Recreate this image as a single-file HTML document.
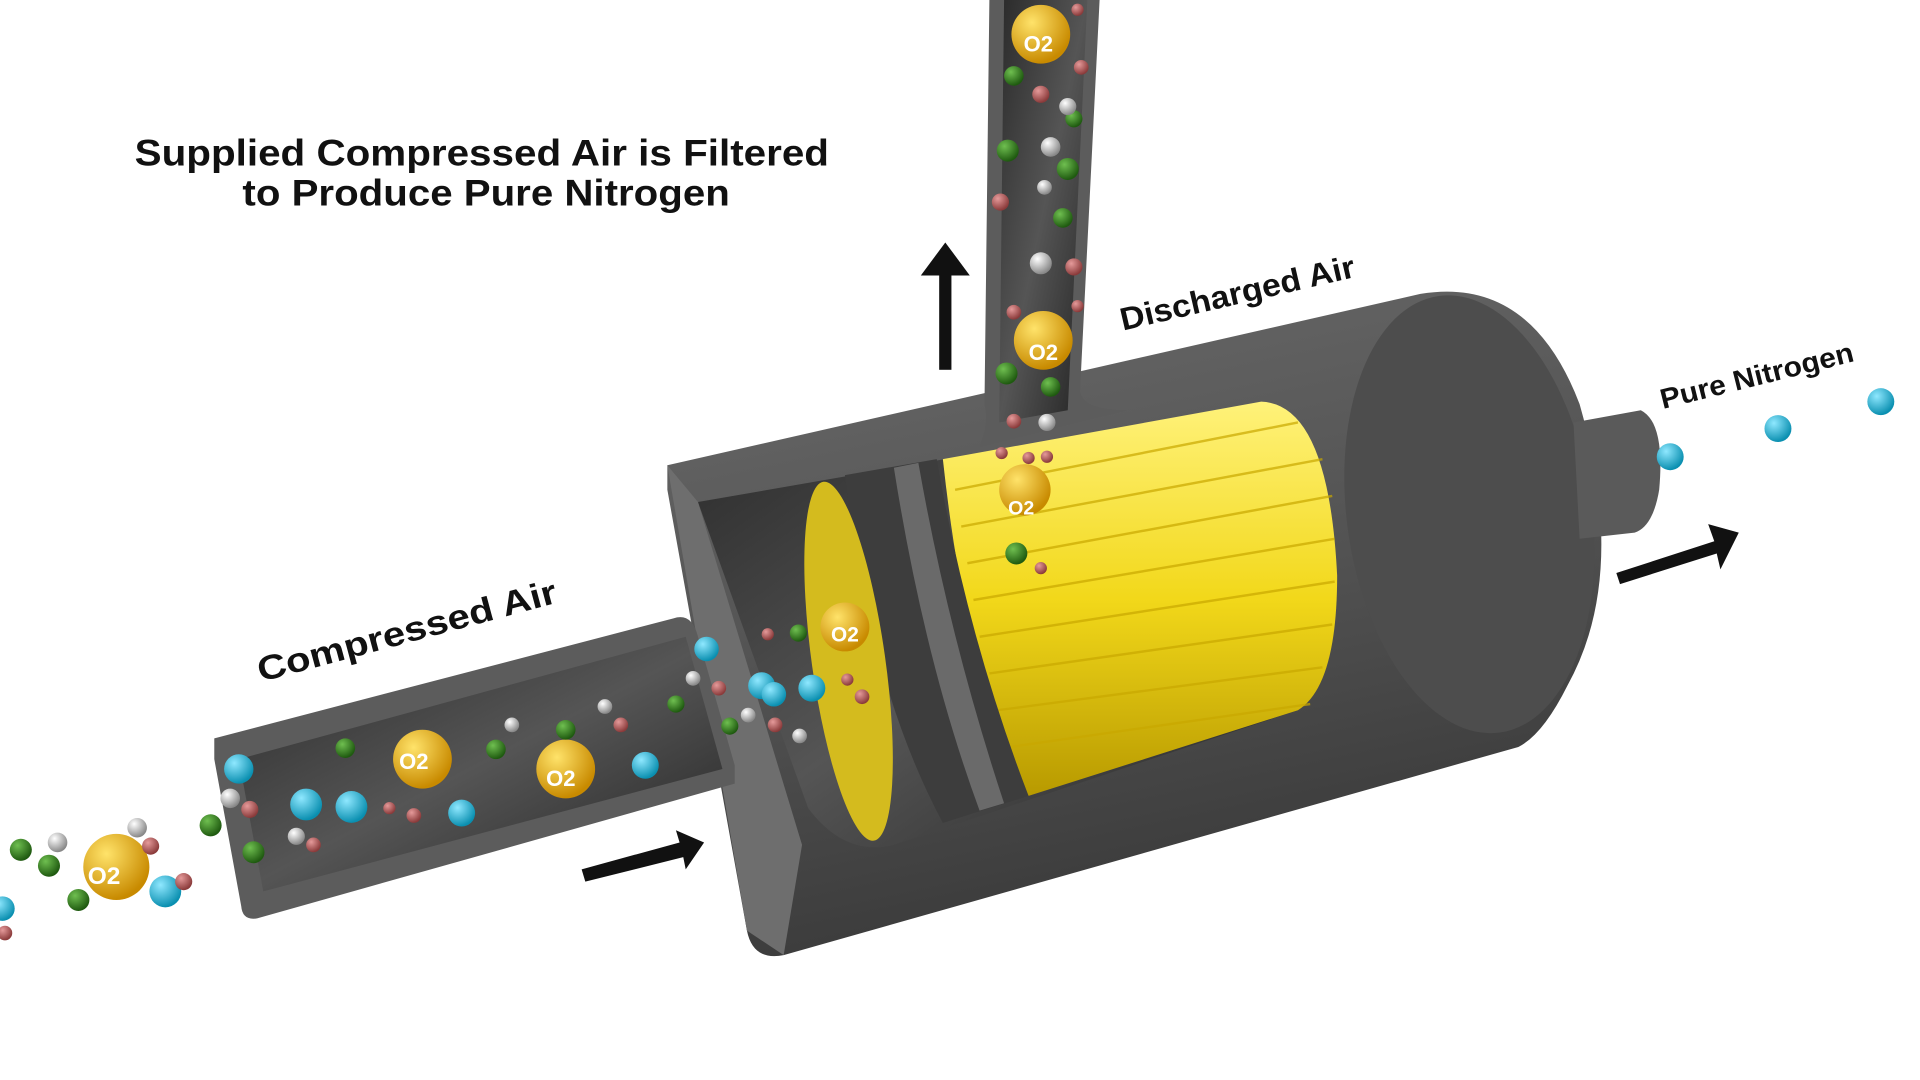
<!DOCTYPE html>
<html><head><meta charset="utf-8"><style>
html,body{margin:0;padding:0;background:#fff;}
svg{display:block;}
text{font-family:"Liberation Sans",sans-serif;font-weight:bold;}
</style></head><body>
<svg width="1920" height="1080" viewBox="0 0 1568 882" preserveAspectRatio="none" xmlns="http://www.w3.org/2000/svg">
<defs>
<linearGradient id="body" x1="0" y1="0" x2="0.3" y2="1">
<stop offset="0" stop-color="#6a6a6a"/><stop offset="0.5" stop-color="#555"/><stop offset="1" stop-color="#3a3a3a"/></linearGradient>
<linearGradient id="inner" x1="0" y1="0" x2="1" y2="1">
<stop offset="0" stop-color="#2a2a2a"/><stop offset="0.5" stop-color="#555"/><stop offset="1" stop-color="#222"/></linearGradient>
<linearGradient id="yel" x1="0" y1="0" x2="0" y2="1">
<stop offset="0" stop-color="#fff27a"/><stop offset="0.5" stop-color="#f2d81a"/><stop offset="1" stop-color="#b89a00"/></linearGradient>
<radialGradient id="o2" cx="0.35" cy="0.3" r="0.7"><stop offset="0" stop-color="#ffe36a"/><stop offset="1" stop-color="#c88a00"/></radialGradient>
<radialGradient id="n2" cx="0.35" cy="0.3" r="0.7"><stop offset="0" stop-color="#8fe8ff"/><stop offset="1" stop-color="#0a8fb0"/></radialGradient>
<radialGradient id="gr" cx="0.35" cy="0.3" r="0.7"><stop offset="0" stop-color="#6fbf50"/><stop offset="1" stop-color="#1f5a10"/></radialGradient>
<radialGradient id="rd" cx="0.35" cy="0.3" r="0.7"><stop offset="0" stop-color="#e59a9a"/><stop offset="1" stop-color="#8a3a3a"/></radialGradient>
<radialGradient id="wh" cx="0.35" cy="0.3" r="0.7"><stop offset="0" stop-color="#fff"/><stop offset="1" stop-color="#888"/></radialGradient>
</defs>

<text x="110" y="135" font-size="30" textLength="567" lengthAdjust="spacingAndGlyphs" fill="#111">Supplied Compressed Air is Filtered</text>
<text x="198" y="168" font-size="30" textLength="398" lengthAdjust="spacingAndGlyphs" fill="#111">to Produce Pure Nitrogen</text>

<!-- big cylinder body -->
<path d="M545 380 L1160 240 Q1250 225 1290 330 Q1330 470 1280 560 Q1260 600 1240 610 L640 780 Q615 785 610 760 L545 400 Z" fill="url(#body)"/>
<ellipse cx="1200" cy="420" rx="100" ry="180" transform="rotate(-8 1200 420)" fill="#4d4d4d"/>
<!-- outlet -->
<path d="M1285 345 L1340 335 Q1360 345 1355 400 Q1350 430 1335 435 L1290 440 Z" fill="#5a5a5a"/>
<!-- cutaway inside -->
<path d="M570 410 L1030 330 Q1080 330 1090 460 Q1090 560 1060 580 L730 690 Q690 700 660 660 Z" fill="url(#inner)"/>
<path d="M545 380 L570 410 L655 690 L640 780 L610 760 Z" fill="#6e6e6e"/>
<!-- yellow filter -->
<path d="M770 375 L1030 328 Q1085 330 1092 470 Q1092 560 1060 580 L840 650 Q790 560 770 375 Z" fill="url(#yel)"/>
<g stroke="#c9a800" stroke-width="2" opacity="0.7">
<line x1="780" y1="400" x2="1060" y2="345"/><line x1="785" y1="430" x2="1080" y2="375"/>
<line x1="790" y1="460" x2="1088" y2="405"/><line x1="795" y1="490" x2="1090" y2="440"/>
<line x1="800" y1="520" x2="1090" y2="475"/><line x1="808" y1="550" x2="1088" y2="510"/>
<line x1="815" y1="580" x2="1080" y2="545"/><line x1="825" y1="610" x2="1070" y2="575"/>
</g>
<!-- gaskets -->
<path d="M690 388 L765 375 Q790 520 840 650 L770 672 Q710 560 690 388 Z" fill="#3d3d3d"/>
<path d="M730 382 L750 378 Q775 520 820 656 L800 662 Q755 540 730 382 Z" fill="#6a6a6a"/>
<ellipse cx="693" cy="540" rx="30" ry="148" transform="rotate(-8 693 540)" fill="#d4bb1e"/>
<!-- small pipe -->
<path d="M175 603 L550 505 Q565 500 570 520 L600 625 L600 640 L210 750 Q198 752 197 740 L175 620 Z" fill="#5c5c5c"/>
<path d="M195 620 L560 520 L590 628 L215 728 Z" fill="url(#inner)"/>
<!-- vertical pipe -->
<path d="M808 0 L898 0 L882 320 Q885 335 920 335 L800 365 Q808 345 804 330 Z" fill="#5c5c5c"/>
<path d="M820 0 L888 0 L872 335 L816 345 Z" fill="url(#inner)"/>

<!-- arrows -->
<g fill="#111">
<rect x="767" y="222" width="10" height="80"/><polygon points="752,225 772,198 792,225"/>
<polygon points="475,710 555,688 552,678 575,688 560,710 558,700 478,720"/>
<polygon points="1320,468 1400,442 1395,428 1420,435 1405,465 1402,452 1323,477"/>
</g>

<text transform="translate(213,557) rotate(-15)" font-size="28" textLength="252" lengthAdjust="spacingAndGlyphs" fill="#111">Compressed Air</text>
<text transform="translate(917,270) rotate(-13)" font-size="26" textLength="196" lengthAdjust="spacingAndGlyphs" fill="#111">Discharged Air</text>
<text transform="translate(1358,334) rotate(-14)" font-size="23" textLength="162" lengthAdjust="spacingAndGlyphs" fill="#111">Pure Nitrogen</text>

<!-- molecules -->
<g font-size="16" fill="#fff" text-anchor="middle" font-weight="bold">
<circle cx="95" cy="708" r="27" fill="url(#o2)"/><text x="85" y="722" font-size="20">O2</text>
<circle cx="345" cy="620" r="24" fill="url(#o2)"/><text x="338" y="628" font-size="18">O2</text>
<circle cx="462" cy="628" r="24" fill="url(#o2)"/><text x="458" y="642" font-size="18">O2</text>
<circle cx="690" cy="512" r="20" fill="url(#o2)"/><text x="690" y="524" font-size="17">O2</text>
<circle cx="837" cy="400" r="21" fill="url(#o2)"/><text x="834" y="420" font-size="16">O2</text>
<circle cx="852" cy="278" r="24" fill="url(#o2)"/><text x="852" y="294" font-size="18">O2</text>
<circle cx="850" cy="28" r="24" fill="url(#o2)"/><text x="848" y="42" font-size="18">O2</text>
</g>
<g>
<circle cx="135" cy="728" r="13" fill="url(#n2)"/><circle cx="250" cy="657" r="13" fill="url(#n2)"/>
<circle cx="287" cy="659" r="13" fill="url(#n2)"/><circle cx="377" cy="664" r="11" fill="url(#n2)"/>
<circle cx="527" cy="625" r="11" fill="url(#n2)"/><circle cx="195" cy="628" r="12" fill="url(#n2)"/>
<circle cx="577" cy="530" r="10" fill="url(#n2)"/><circle cx="622" cy="560" r="11" fill="url(#n2)"/>
<circle cx="632" cy="567" r="10" fill="url(#n2)"/><circle cx="663" cy="562" r="11" fill="url(#n2)"/>
<circle cx="1364" cy="373" r="11" fill="url(#n2)"/><circle cx="1452" cy="350" r="11" fill="url(#n2)"/>
<circle cx="1536" cy="328" r="11" fill="url(#n2)"/><circle cx="2" cy="742" r="10" fill="url(#n2)"/>
</g>
<g fill="url(#gr)">
<circle cx="17" cy="694" r="9"/><circle cx="40" cy="707" r="9"/><circle cx="64" cy="735" r="9"/>
<circle cx="172" cy="674" r="9"/><circle cx="207" cy="696" r="9"/><circle cx="282" cy="611" r="8"/>
<circle cx="405" cy="612" r="8"/><circle cx="462" cy="596" r="8"/><circle cx="552" cy="575" r="7"/>
<circle cx="596" cy="593" r="7"/><circle cx="652" cy="517" r="7"/><circle cx="830" cy="452" r="9"/>
<circle cx="822" cy="305" r="9"/><circle cx="858" cy="316" r="8"/><circle cx="872" cy="138" r="9"/>
<circle cx="823" cy="123" r="9"/><circle cx="868" cy="178" r="8"/><circle cx="828" cy="62" r="8"/>
<circle cx="877" cy="97" r="7"/>
</g>
<g fill="url(#wh)">
<circle cx="47" cy="688" r="8"/><circle cx="112" cy="676" r="8"/><circle cx="188" cy="652" r="8"/>
<circle cx="242" cy="683" r="7"/><circle cx="418" cy="592" r="6"/><circle cx="494" cy="577" r="6"/>
<circle cx="566" cy="554" r="6"/><circle cx="611" cy="584" r="6"/><circle cx="653" cy="601" r="6"/>
<circle cx="855" cy="345" r="7"/><circle cx="850" cy="215" r="9"/><circle cx="858" cy="120" r="8"/>
<circle cx="853" cy="153" r="6"/><circle cx="872" cy="87" r="7"/>
</g>
<g fill="url(#rd)">
<circle cx="123" cy="691" r="7"/><circle cx="150" cy="720" r="7"/><circle cx="204" cy="661" r="7"/>
<circle cx="256" cy="690" r="6"/><circle cx="338" cy="666" r="6"/><circle cx="318" cy="660" r="5"/>
<circle cx="507" cy="592" r="6"/><circle cx="587" cy="562" r="6"/><circle cx="633" cy="592" r="6"/>
<circle cx="704" cy="569" r="6"/><circle cx="692" cy="555" r="5"/><circle cx="627" cy="518" r="5"/>
<circle cx="850" cy="464" r="5"/><circle cx="828" cy="344" r="6"/><circle cx="840" cy="374" r="5"/>
<circle cx="855" cy="373" r="5"/><circle cx="818" cy="370" r="5"/><circle cx="828" cy="255" r="6"/>
<circle cx="877" cy="218" r="7"/><circle cx="880" cy="250" r="5"/><circle cx="817" cy="165" r="7"/>
<circle cx="850" cy="77" r="7"/><circle cx="883" cy="55" r="6"/><circle cx="880" cy="8" r="5"/>
<circle cx="4" cy="762" r="6"/>
</g>
</svg>
</body></html>
